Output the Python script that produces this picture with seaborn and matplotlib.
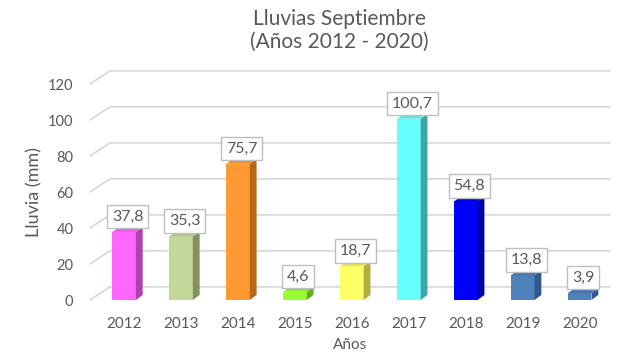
import numpy as np
import seaborn as sns
import matplotlib.pyplot as plt
from matplotlib.patches import Polygon

years = ['2012', '2013', '2014', '2015', '2016', '2017', '2018', '2019', '2020']
rain = [37.8, 35.3, 75.7, 4.6, 18.7, 100.7, 54.8, 13.8, 3.9]
front_colors = ['#FF66FF', '#C4D79B', '#FF9933', '#99FF33', '#FFFF66',
                '#66FFFF', '#0000FF', '#4F81BD', '#4F81BD']
side_colors = ['#B042B0', '#83905F', '#B8661A', '#5FB020', '#B0B040',
               '#3FA6A6', '#0000A6', '#2F5A8C', '#2F5A8C']
top_colors = ['#E95CE9', '#B3C48C', '#EB8A2C', '#8AE62E', '#E6E65C',
              '#5CE6E6', '#0000E0', '#4674AB', '#4674AB']
y_ticks = [0, 20, 40, 60, 80, 100, 120]

txt = '#595959'
grid = '#D9D9D9'

sns.set_style("white")
plt.rcParams['font.family'] = ['Lato', 'DejaVu Sans']

fig = plt.figure(figsize=(6.4, 3.6), dpi=100)
ax = fig.add_axes([90 / 640, 60 / 360, 520 / 640, 216 / 360])

sns.barplot(x=years, y=rain, hue=years, palette=front_colors, legend=False,
            width=0.41, saturation=1, linewidth=0, edgecolor='none',
            ax=ax, zorder=3)

ax.set_xlim(-0.6, 8.53)
ax.set_ylim(0, 120)

# depth of the bars and of the back wall, in data units
dx, dy = 0.12, 2.8
wx, wy = 0.35, 7.3

# back-wall gridlines with a stub on the side wall
for v in y_ticks:
    ax.plot([-0.6, -0.6 + wx, 8.53], [v, v + wy, v + wy], color=grid,
            lw=1.3, clip_on=False, zorder=1)

for i, p in enumerate(ax.patches):
    x0 = p.get_x()
    x1 = x0 + p.get_width()
    h = p.get_height()
    side = Polygon([(x1, 0), (x1 + dx, dy), (x1 + dx, h + dy), (x1, h)],
                   closed=True, fc=side_colors[i], ec='none', zorder=3)
    top = Polygon([(x0, h), (x1, h), (x1 + dx, h + dy), (x0 + dx, h + dy)],
                  closed=True, fc=top_colors[i], ec='none', zorder=3)
    ax.add_patch(side)
    ax.add_patch(top)
    ax.text(x0 + p.get_width() / 2 + dx / 2, h + dy + 1.8,
            f"{rain[i]:.1f}".replace('.', ','), ha='center', va='bottom',
            fontsize=11.5, color=txt, zorder=5,
            bbox=dict(boxstyle='square,pad=0.3', fc='white', ec='#BFBFBF', lw=1))

sns.despine(ax=ax, left=True, bottom=True)
ax.set_yticks(y_ticks)
ax.set_yticklabels([str(v) for v in y_ticks])
ax.tick_params(axis='y', length=0, pad=12, labelsize=10.5, labelcolor=txt)
ax.tick_params(axis='x', length=0, pad=12, labelsize=11, labelcolor=txt)
ax.set_xlabel('Años', fontsize=11, color=txt, labelpad=5)
ax.set_ylabel('Lluvia (mm)', fontsize=13, color=txt, labelpad=4)
ax.grid(False)

fig.text(0.53, 0.975, 'Lluvias Septiembre\n(Años 2012 - 2020)', ha='center',
         va='top', fontsize=15, color=txt, linespacing=1.15)

fig.savefig('out.png', dpi=100)
